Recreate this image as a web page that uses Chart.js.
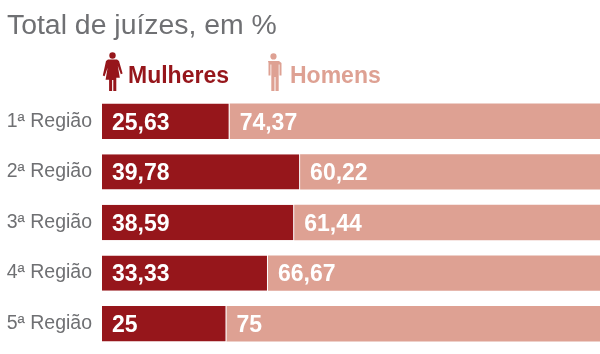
<!DOCTYPE html>
<html>
<head>
<meta charset="utf-8">
<script src="https://cdn.jsdelivr.net/npm/chart.js@4/dist/chart.umd.min.js"></script>
<style>
    html, body { margin: 0; padding: 0; background: #fff; }
    body { width: 600px; height: 354px; position: relative; overflow: hidden; font-family: "Liberation Sans", sans-serif; }
    #wrap { position: absolute; left: 0; top: 0; width: 600px; height: 354px; }
    h1 { position: absolute; left: 7px; top: 7px; margin: 0; font-size: 28.4px; line-height: 34px; font-weight: normal; color: #6f7073; white-space: nowrap; }
    .key { position: absolute; top: 61px; font-size: 23px; line-height: 28px; font-weight: bold; white-space: nowrap; }
    .key svg { position: absolute; top: -9px; }
</style>
</head>
<body>
<div id="wrap"><canvas id="chart" width="600" height="354"></canvas></div>
<h1>Total de juízes, em %</h1>
<div class="key" style="left:128px;color:#96161b">Mulheres
    <svg style="left:-26px" width="21" height="40" viewBox="0 0 21 40" fill="#96161b">
        <circle cx="10.5" cy="3.5" r="3.2"/>
        <path d="M6 7.5h9l2 1.5 3.600 12.500-1.800.7-3-8.500 2 12h-3.500V39h-3V28h-1.200v11h-3V27.700h-3.500l2-12-3 8.500-1.800-.7L4 9z"/>
    </svg>
</div>
<div class="key" style="left:290px;color:#dea193">Homens
    <svg style="left:-25px" width="18" height="40" viewBox="0 0 18 40" fill="#dea193">
        <circle cx="8.5" cy="4.4" r="3.1"/>
        <path d="M3 9h11l2.500 2v12.500h-2v-11h-.8V39h-3.200V25h-1v14H6.300V12.500h-.8v11h-2V11z"/>
    </svg>
</div>
<script>
const regions = ['1ª Região', '2ª Região', '3ª Região', '4ª Região', '5ª Região'];
const mulheres = [25.63, 39.78, 38.59, 33.33, 25];
const homens = [74.37, 60.22, 61.44, 66.67, 75];
const mulheresText = ['25,63', '39,78', '38,59', '33,33', '25'];
const homensText = ['74,37', '60,22', '61,44', '66,67', '75'];

const DARK = '#96161b';
const LIGHT = '#dea193';

// writes the value inside each bar, near its left end
const barLabels = {
    id: 'barLabels',
    afterDatasetsDraw(chart) {
        const ctx = chart.ctx;
        ctx.save();
        ctx.font = 'bold 23px "Liberation Sans"';
        ctx.fillStyle = '#fff';
        ctx.textBaseline = 'middle';
        ctx.textAlign = 'left';
        chart.getDatasetMeta(0).data.forEach((bar, i) => {
            ctx.fillText(mulheresText[i], bar.base + 10, bar.y + 2);
        });
        chart.getDatasetMeta(1).data.forEach((bar, i) => {
            ctx.fillText(homensText[i], bar.base + 10, bar.y + 2);
        });
        ctx.restore();
    }
};

new Chart(document.getElementById('chart'), {
    type: 'bar',
    data: {
        labels: regions,
        datasets: [
            { label: 'Mulheres', data: mulheres, backgroundColor: DARK, borderColor: '#fff', borderWidth: { right: 1 }, borderSkipped: false },
            { label: 'Homens', data: homens, backgroundColor: LIGHT, borderWidth: 0 }
        ]
    },
    options: {
        indexAxis: 'y',
        responsive: false,
        animation: false,
        barPercentage: 0.7,
        categoryPercentage: 1,
        layout: { autoPadding: false, padding: { top: 96, bottom: 5, left: 0, right: 0 } },
        plugins: { legend: { display: false }, title: { display: false }, tooltip: { enabled: false } },
        scales: {
            x: { stacked: true, min: 0, max: 100, display: false },
            y: {
                stacked: true,
                grid: { display: false, drawTicks: false },
                border: { display: false },
                afterFit(scale) {
                    // label height would otherwise be taken off the plot area
                    scale.width = 102;
                    scale.paddingTop = 0;
                    scale.paddingBottom = 0;
                },
                ticks: { padding: 10, color: '#6f7073', font: { family: '"Liberation Sans"', size: 19.5 } }
            }
        }
    },
    plugins: [barLabels]
});
</script>
</body>
</html>
